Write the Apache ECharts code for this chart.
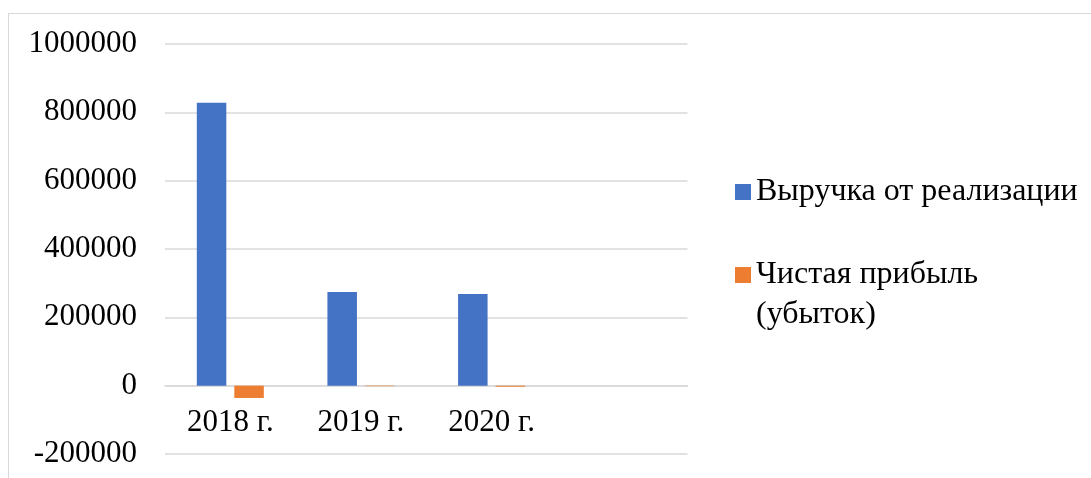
<!DOCTYPE html>
<html>
<head>
<meta charset="utf-8">
<script src="https://cdn.jsdelivr.net/npm/echarts@6/dist/echarts.min.js"></script>
<style>
  html, body { margin: 0; padding: 0; background: #fff; overflow: hidden; }
  #frame { position: absolute; left: 8px; top: 13px; width: 1100px; height: 500px; border: 1px solid #d9d9d9; }
  #chart { position: absolute; left: 0; top: 0; width: 1091px; height: 478px; }
</style>
</head>
<body>
<div id="frame"></div>
<div id="chart"></div>
<script>
// данные с диаграммы
const categories = ["2018 г.", "2019 г.", "2020 г.", ""];
const revenue = [828000, 274000, 268000, "-"];
const profit = [-36000, -1500, -3000, "-"];
const yTicks = { min: -200000, max: 1000000, step: 200000 };
const seriesNames = ["Выручка от реализации", "Чистая прибыль (убыток)"];

const font = "Liberation Serif";

const chart = echarts.init(document.getElementById("chart"), null, { renderer: "canvas" });

chart.setOption({
    animation: false,
    backgroundColor: "transparent",
    grid: { left: 165, top: 44, width: 522.5, height: 410, outerBoundsMode: "none", containLabel: false },
    xAxis: {
        type: "category",
        data: categories,
        axisLine: { onZero: true, lineStyle: { color: "#d9d9d9", width: 1.5 } },
        axisTick: { show: false },
        // подписи категорий стоят под нулевой линией
        axisLabel: { color: "#000", fontSize: 31, fontFamily: font, margin: -47 }
    },
    yAxis: {
        type: "value",
        min: yTicks.min,
        max: yTicks.max,
        interval: yTicks.step,
        axisLine: { show: false },
        axisTick: { show: false },
        splitLine: { lineStyle: { color: "#d9d9d9", width: 1.5 } },
        axisLabel: { color: "#000", fontSize: 31, fontFamily: font, margin: 28, formatter: v => String(v) }
    },
    legend: {
        orient: "vertical",
        left: 730,
        top: 159,
        itemWidth: 16,
        itemHeight: 56,
        itemGap: 35,
        data: [
            // квадрат по центру строки
            { name: seriesNames[0], icon: "path://M0 20H16V36H0Z M0 0 M0 56" },
            // квадрат на уровне первой строки
            { name: seriesNames[1], icon: "path://M0 0H16V16H0Z M0 56" }
        ],
        formatter: name => name === seriesNames[1] ? "Чистая прибыль\n(убыток)" : name,
        textStyle: { color: "#000", fontSize: 32, fontFamily: font, lineHeight: 40 }
    },
    series: [
        {
            name: seriesNames[0],
            type: "bar",
            data: revenue,
            barWidth: "22.6%",
            barGap: "27%",
            itemStyle: { color: "#4472C4" }
        },
        {
            name: seriesNames[1],
            type: "bar",
            data: profit,
            barWidth: "22.6%",
            itemStyle: { color: "#ED7D31" }
        }
    ]
});
</script>
</body>
</html>
